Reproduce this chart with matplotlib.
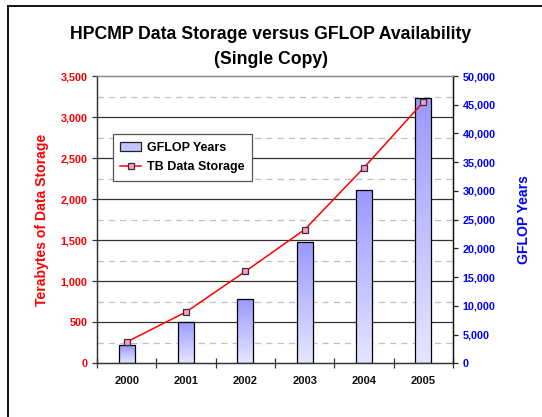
import numpy as np
import matplotlib.pyplot as plt
from matplotlib.lines import Line2D
from matplotlib.patches import Patch
from matplotlib.ticker import FuncFormatter, MultipleLocator

plt.rcParams['font.family'] = ['Liberation Sans', 'DejaVu Sans']

# ── Data ──────────────────────────────────────────────────────────────────────
years = ['2000', '2001', '2002', '2003', '2004', '2005']
tb_storage = [260, 625, 1120, 1630, 2385, 3185]          # terabytes
gflop_years = [3130, 7190, 11240, 21050, 30110, 46230]   # GFLOP years

tb_max, gflop_max = 3500, 50000

fig = plt.figure(figsize=(5.42, 4.17), dpi=100)
ax2 = fig.add_axes([0.179, 0.1288, 0.657, 0.6889])   # bars (GFLOP, right axis)
ax = ax2.twinx()                                      # line (TB)

# left axis should be TB, right axis GFLOP
ax.yaxis.tick_left()
ax.yaxis.set_label_position('left')
ax2.yaxis.tick_right()
ax2.yaxis.set_label_position('right')
ax.set_zorder(ax2.get_zorder() + 1)
ax.patch.set_visible(False)

x = np.arange(len(years))

# ── Gridlines (TB scale), drawn behind the bars ───────────────────────────────
for v in np.arange(250, tb_max, 500):
    ax2.plot([0, 1], [v, v], transform=ax.get_yaxis_transform(),
             color='#c0c0c0', lw=0.9, dashes=(5, 4), zorder=0.5)
for v in np.arange(500, tb_max, 500):
    ax2.plot([0, 1], [v, v], transform=ax.get_yaxis_transform(),
             color='#333333', lw=0.9, zorder=0.6)

# ── Bars with vertical gradient ───────────────────────────────────────────────
grad = np.linspace(0, 1, 256).reshape(-1, 1)
cmap = plt.matplotlib.colors.LinearSegmentedColormap.from_list(
    'lav', ['#e6e6ff', '#9999ff'])
bars = ax2.bar(x, gflop_years, width=0.27, facecolor='none',
               edgecolor='black', linewidth=0.9, zorder=2)
for b in bars:
    x0, w, h = b.get_x(), b.get_width(), b.get_height()
    im = ax2.imshow(grad, cmap=cmap, aspect='auto', origin='lower',
                    extent=[x0, x0 + w, 0, h], zorder=1.5)
    im.set_clip_path(b)

# ── Line ──────────────────────────────────────────────────────────────────────
ax.plot(x, tb_storage, color='red', lw=1.1, marker='s', ms=5,
        mfc='#ff99cc', mec='#333333', mew=0.9, zorder=3)

ax.set_ylim(0, tb_max)
ax2.set_ylim(0, gflop_max)
ax2.set_xlim(-0.5, len(years) - 0.5)

# ── Axes styling ─────────────────────────────────────────────────────────────
ax.yaxis.set_major_locator(MultipleLocator(500))
ax2.yaxis.set_major_locator(MultipleLocator(5000))
fmt = FuncFormatter(lambda v, p: f'{int(v):,}')
ax.yaxis.set_major_formatter(fmt)
ax2.yaxis.set_major_formatter(fmt)

ax.tick_params(axis='y', direction='out', length=3.3, width=0.9,
               colors='#333333', labelcolor='red', labelsize=7.8, pad=3.4)
ax2.tick_params(axis='y', direction='out', length=3.3, width=0.9,
                colors='#222222', labelcolor='#0000ff', labelsize=7.8, pad=3.4)
for lab in ax.get_yticklabels() + ax2.get_yticklabels():
    lab.set_fontweight('bold')

ax2.set_xticks(x)
ax2.set_xticklabels(years, fontsize=8, fontweight='bold', color='#111111')
ax2.tick_params(axis='x', length=0, pad=9.5)
ax2.set_xticks(np.arange(-0.5, len(years)), minor=True)
ax2.tick_params(axis='x', which='minor', direction='inout', length=7,
                width=0.9, color='#333333')

for a in (ax, ax2):
    a.spines['top'].set_color('#888888')
    a.spines['left'].set_color('#333333')
    a.spines['right'].set_color('#111111')
    a.spines['bottom'].set_color('#333333')
    for s in a.spines.values():
        s.set_linewidth(0.9)

ax.set_ylabel('Terabytes of Data Storage', color='red', fontsize=10.1,
              fontweight='bold', labelpad=8.5)
ax2.set_ylabel('GFLOP Years', color='#0000ff', fontsize=10.1,
               fontweight='bold', labelpad=15.5)

# ── Legend ────────────────────────────────────────────────────────────────────
handles = [Patch(facecolor='#c4c4ff', edgecolor='#222222', lw=0.9),
           Line2D([], [], color='red', lw=1.1, marker='s', ms=5,
                  mfc='#ff99cc', mec='#333333', mew=0.9)]
leg = ax.legend(handles, ['GFLOP Years', 'TB Data Storage'],
                loc='upper left', bbox_to_anchor=(0.044, 0.798),
                bbox_transform=ax.transAxes, borderaxespad=0,
                prop={'weight': 'bold', 'size': 9}, fancybox=False,
                framealpha=1, edgecolor='#555555', borderpad=0.6,
                handlelength=1.7, handletextpad=0.45, labelspacing=0.6)
leg.get_frame().set_linewidth(0.9)

# ── Title ─────────────────────────────────────────────────────────────────────
fig.text(0.5, 1 - 34.5 / 417, 'HPCMP Data Storage versus GFLOP Availability',
         ha='center', va='center', fontsize=12.7, fontweight='bold')
fig.text(0.5, 1 - 59 / 417, '(Single Copy)',
         ha='center', va='center', fontsize=12.7, fontweight='bold')

# ── Outer frame (only left and top edges visible) ────────────────────────────
fx, fy = 8 / 542, 1 - 6 / 417
fig.add_artist(Line2D([fx, fx], [0, fy], transform=fig.transFigure,
                      color='black', lw=1.3))
fig.add_artist(Line2D([fx, 1], [fy, fy], transform=fig.transFigure,
                      color='black', lw=1.3))

fig.savefig('out.png', dpi=100)
